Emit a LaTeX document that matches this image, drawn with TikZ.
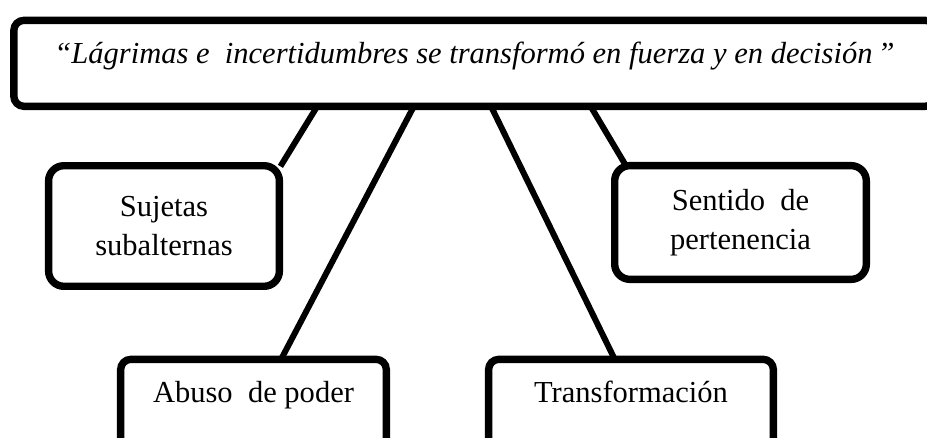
\documentclass[tikz,border=0pt]{standalone}
\usepackage{fontspec}
\setmainfont{Liberation Serif}
\usetikzlibrary{backgrounds}

\begin{document}
\begin{tikzpicture}[x=0.393pt,y=-0.393pt]
    \tikzstyle{caja}=[draw,line width=2.9pt,fill=white,rounded corners=6pt,inner sep=0pt,align=center,font=\fontsize{12}{15.5}\selectfont]
    \tikzstyle{cajabase}=[caja,rounded corners=4pt,anchor=north,text height=16.8pt]
    \tikzstyle{enlace}=[draw,line width=2.35pt,shorten <=-2pt,shorten >=-2pt]

    \useasboundingbox (0,0) rectangle (927,437);

    \node[cajabase,text depth=17pt,minimum width=362.1pt,font=\fontsize{12}{15.5}\selectfont\itshape] (lema) at (474.5,16.65) {“Lágrimas e~~incertidumbres se transformó en fuerza y en decisión\,”};
    \node[caja,minimum width=90.7pt,minimum height=47.4pt] (sujetas) at (164,226) {Sujetas\\subalternas};
    \node[caja,minimum width=98.9pt,minimum height=44.7pt] (sentido) at (740.5,222.5) {Sentido~~de\\pertenencia};
    \node[cajabase,text depth=30pt,minimum width=104.4pt] (abuso) at (253.5,355.65) {Abuso~~de poder};
    \node[cajabase,text depth=30pt,minimum width=111.9pt] (transf) at (631,355.65) {Transformación};

    \begin{scope}[on background layer]
    \path[enlace] ([xshift=-62.7pt]lema.south) -- (sujetas.north east);
    \path[enlace] ([xshift=-24.6pt]lema.south) -- ([xshift=11.6pt]abuso.north);
    \path[enlace] ([xshift=7.2pt]lema.south) -- ([xshift=-7.1pt]transf.north);
    \path[enlace] ([xshift=46.5pt]lema.south) -- ([xshift=5pt]sentido.north west);
    \end{scope}
\end{tikzpicture}
\end{document}
